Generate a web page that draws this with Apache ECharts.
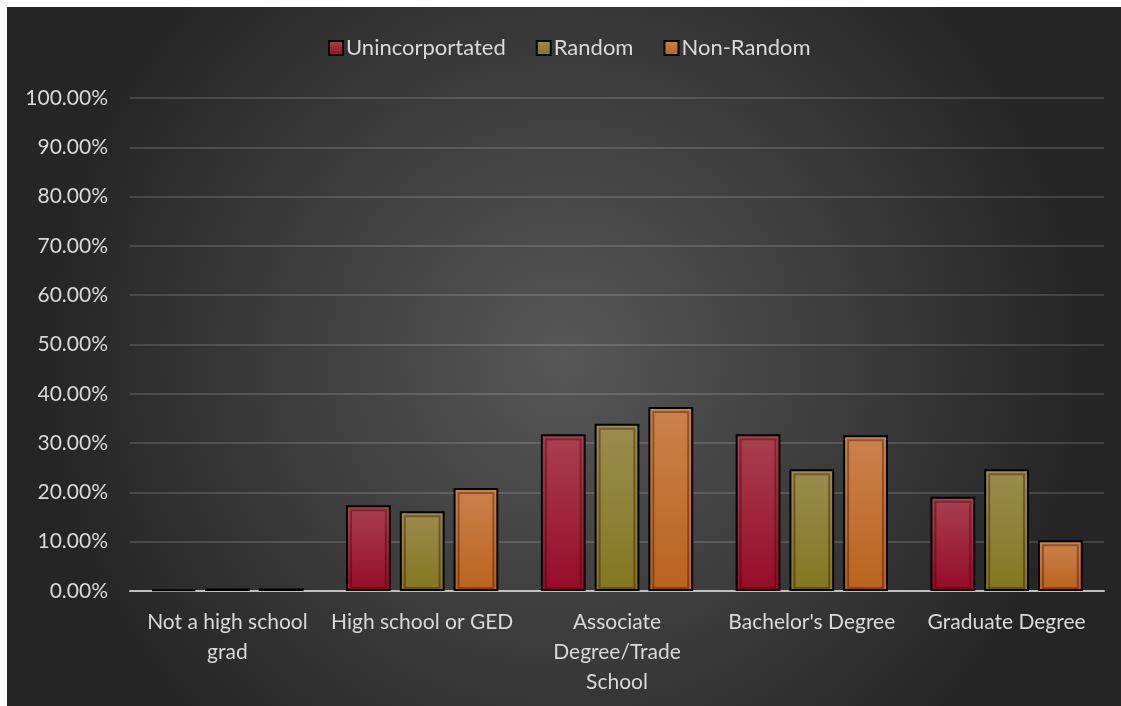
<!DOCTYPE html>
<html>
<head>
<meta charset="utf-8">
<script src="https://cdn.jsdelivr.net/npm/echarts@6/dist/echarts.min.js"></script>
<style>
  html, body { margin: 0; padding: 0; background: #ffffff; width: 1121px; height: 706px; overflow: hidden; }
  #chart { position: absolute; left: 7px; top: 7px; width: 1114px; height: 699px; }
</style>
</head>
<body>
<div id="chart"></div>
<script>
// ---- data ----
const categories = ["Not a high school grad", "High school or GED", "Associate Degree/Trade School", "Bachelor's Degree", "Graduate Degree"];
const tickLabels = ["Not a high school\ngrad", "High school or GED", "Associate\nDegree/Trade\nSchool", "Bachelor's Degree", "Graduate Degree"];
const seriesNames = ["Unincorportated", "Random", "Non-Random"];
const unincorporated = [0.3, 17.4, 31.8, 31.8, 19.1];
const random = [0.5, 16.2, 33.9, 24.7, 24.7];
const nonRandom = [0.5, 20.9, 37.3, 31.6, 10.3];
const yTicks = [0, 10, 20, 30, 40, 50, 60, 70, 80, 90, 100];

// ---- styling ----
const fills = [
  ['#a9404f', '#950c28'],
  ['#9c8b4f', '#847720'],
  ['#cc824d', '#b9631d']
];
const FONT = 'Lato, "Open Sans", sans-serif';
const FS = 21;
const BAR_RATIO = 0.23;  // fraction of band
const GAP_RATIO = 0.2;   // fraction of bar width
const allData = [unincorporated, random, nonRandom];

const chart = echarts.init(document.getElementById('chart'));

function grad(c) {
  return new echarts.graphic.LinearGradient(0, 0, 0, 1, [
    { offset: 0, color: c[0] }, { offset: 1, color: c[1] }
  ]);
}

const barSeries = allData.map((d, k) => ({
  name: seriesNames[k],
  type: 'bar',
  data: d,
  barWidth: (BAR_RATIO * 100) + '%',
  barGap: (GAP_RATIO * 100) + '%',
  itemStyle: { color: grad(fills[k]), borderColor: '#000000', borderWidth: 2 },
  emphasis: { disabled: true },
  z: 2
}));

// inner inset outline drawn via custom series using axis scales
const insetSeries = allData.map((d, k) => ({
  type: 'custom',
  silent: true,
  z: 3,
  data: d.map((v, i) => [i, v]),
  renderItem: function (params, api) {
    const i = api.value(0), v = api.value(1);
    const band = api.size([1, 0])[0];
    const w = band * BAR_RATIO;
    const total = 3 * w + 2 * w * GAP_RATIO;
    const top = api.coord([i, v]);
    const base = api.coord([i, 0]);
    const x0 = top[0] - total / 2 + k * w * (1 + GAP_RATIO);
    const inset = 5;
    const h = base[1] - top[1];
    if (h < 14) return null;
    return {
      type: 'rect',
      shape: { x: x0 + inset, y: top[1] + inset, width: w - 2 * inset, height: h - inset - 3 },
      style: { fill: null, stroke: 'rgba(40,0,0,0.35)', lineWidth: 2 }
    };
  }
}));

chart.setOption({
  animation: false,
  backgroundColor: {
    type: 'radial', x: 0.5, y: 0.5, r: 0.75,
    colorStops: [
      { offset: 0, color: '#575757' },
      { offset: 1, color: '#252525' }
    ]
  },
  textStyle: { fontFamily: FONT },
  legend: {
    data: seriesNames,
    top: 25,
    left: 316,
    icon: 'rect',
    itemWidth: 14,
    itemHeight: 14,
    itemGap: 30,
    itemStyle: { borderColor: '#000', borderWidth: 2 },
    textStyle: { color: '#d9d9d9', fontSize: 22, fontFamily: FONT, padding: [0, 0, 0, -2] }
  },
  grid: { left: 123, right: 17, top: 91, bottom: 115, containLabel: false },
  xAxis: {
    type: 'category',
    data: categories,
    axisTick: { show: false },
    axisLine: { lineStyle: { color: '#c0c0c0', width: 2 } },
    axisLabel: {
      color: '#d9d9d9', fontSize: FS, fontFamily: FONT, lineHeight: 30, margin: 16,
      interval: 0,
      formatter: (v, i) => tickLabels[i]
    }
  },
  yAxis: {
    type: 'value',
    min: yTicks[0],
    max: yTicks[yTicks.length - 1],
    interval: yTicks[1] - yTicks[0],
    axisLine: { show: false },
    axisTick: { show: false },
    splitLine: { lineStyle: { color: 'rgba(255,255,255,0.14)', width: 2 } },
    axisLabel: {
      color: '#d9d9d9', fontSize: FS, fontFamily: FONT, margin: 22,
      formatter: v => v.toFixed(2) + '%'
    }
  },
  series: barSeries.concat(insetSeries)
});
</script>
</body>
</html>
